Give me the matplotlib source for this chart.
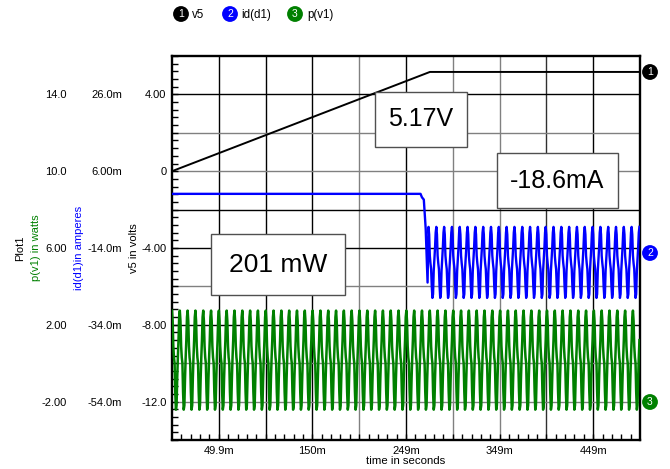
import numpy as np
import matplotlib
matplotlib.use("Agg")
import matplotlib.pyplot as plt
from matplotlib.ticker import FixedLocator, MultipleLocator
from matplotlib.patches import Rectangle

plt.rcParams['font.family'] = ['Liberation Sans', 'DejaVu Sans']

# ---------------- data ----------------
t_end_s = 0.499
# v5: linear ramp then flat
v5_t = [0.0, 0.275, 0.499]
v5_v = [0.0, 5.17, 5.17]

# id(d1): flat, transition, then periodic ripple (one cycle)
id_pre_t = [0.0, 0.265, 0.2665, 0.2685, 0.2705, 0.2725]
id_pre_v = [0.1e-3, 0.1e-3, -0.8e-3, -1.4e-3, -9.0e-3, -23.0e-3]
id_cycle_v = [-8.5e-3, -10.5e-3, -16e-3, -18e-3, -19.5e-3, -24e-3,
              -27e-3, -26e-3, -20e-3, -17e-3, -14e-3, -10e-3]
id_osc_start_s = 0.2735

# p(v1): periodic ripple all the way (one cycle)
p_cycle_v = [2.74, 2.2, 0.9, 0.3, 0.0, -1.5, -2.42, -2.2, -0.8, 0.3, 1.2, 2.4]
cycle_period_s = 8.33e-3

xtick_vals = [0.0499, 0.1497, 0.2495, 0.3493, 0.4491]
xtick_labels = ["49.9m", "150m", "249m", "349m", "449m"]
v5_ticks = [4, 0, -4, -8, -12]
v5_labels = ["4.00", "0", "-4.00", "-8.00", "-12.0"]
id_ticks = [26e-3, 6e-3, -14e-3, -34e-3, -54e-3]
id_labels = ["26.0m", "6.00m", "-14.0m", "-34.0m", "-54.0m"]
p_ticks = [14, 10, 6, 2, -2]
p_labels = ["14.0", "10.0", "6.00", "2.00", "-2.00"]

GREEN = "#008000"
BLUE = "#0000FF"
FS = 8

# ---------------- build periodic series ----------------
def tile_cycle(cycle, start, stop):
    n = len(cycle)
    ncyc = int(np.ceil((stop - start) / cycle_period_s)) + 1
    tt = start + np.arange(ncyc * n) * cycle_period_s / n
    vv = np.tile(cycle, ncyc)
    m = tt <= stop
    return tt[m], vv[m]

p_t, p_v = tile_cycle(p_cycle_v, 0.0, t_end_s)
id_ot, id_ov = tile_cycle(id_cycle_v, id_osc_start_s, t_end_s)
id_t = np.concatenate([id_pre_t, id_ot])
id_v = np.concatenate([id_pre_v, id_ov])

# ---------------- figure ----------------
W, H = 670, 469
fig = plt.figure(figsize=(W / 100, H / 100), dpi=100)
L, R, T, B = 172, 640, 56, 440
pos = [L / W, 1 - B / H, (R - L) / W, (B - T) / H]

ax = fig.add_axes(pos)
ax.set_xlim(0, t_end_s)
ax.set_ylim(-14, 6)

# grid lines
vcols = ["k", "k", "k", "#808080", "k", "#808080", "#808080", "#303030", "k"]
for k, c in enumerate(vcols, start=1):
    ax.axvline(k * 0.0499, color=c, lw=1.0, zorder=1)
hvals = [4, 2, 0, -2, -4, -6, -8, -10, -12]
hcols = ["k", "#808080", "#808080", "k", "k", "#808080", "k", "#808080", "#808080"]
for v, c in zip(hvals, hcols):
    ax.axhline(v, color=c, lw=1.0, zorder=1)

# traces
axp = fig.add_axes(pos, sharex=ax)
axp.set_ylim(-4, 16)
axi = fig.add_axes(pos, sharex=ax)
axi.set_ylim(-64e-3, 36e-3)
for a in (axp, axi):
    a.patch.set_visible(False)
    for s in a.spines.values():
        s.set_visible(False)
    a.tick_params(axis='x', which='both', bottom=False, labelbottom=False)

axp.plot(p_t, p_v, color=GREEN, lw=1.8, zorder=3)
axi.plot(id_t, id_v, color=BLUE, lw=1.7, zorder=3)
ax.plot(v5_t, v5_v, color="k", lw=1.4, zorder=4)

# v5 ticks
ax.yaxis.set_major_locator(FixedLocator(v5_ticks))
ax.set_yticklabels(v5_labels)
ax.yaxis.set_minor_locator(MultipleLocator(0.4))
ax.tick_params(axis='y', which='both', direction='in', length=4, width=1, pad=4,
               labelsize=FS)
ax.xaxis.set_major_locator(FixedLocator(xtick_vals))
ax.set_xticklabels(xtick_labels)
ax.xaxis.set_minor_locator(FixedLocator(np.arange(1, 50) * 0.00998))
ax.tick_params(axis='x', which='both', direction='in', length=4, width=1, pad=4,
               labelsize=FS)
for s in ax.spines.values():
    s.set_linewidth(1.7)
    s.set_zorder(5)
ax.set_xlabel("time in seconds", fontsize=FS + 0.2, labelpad=0)

# extra label columns
axi.yaxis.set_major_locator(FixedLocator(id_ticks))
axi.set_yticklabels(id_labels)
axi.tick_params(axis='y', which='both', length=0, pad=50 * 0.72, labelsize=FS)
axp.yaxis.set_major_locator(FixedLocator(p_ticks))
axp.set_yticklabels(p_labels)
axp.tick_params(axis='y', which='both', length=0, pad=105 * 0.72, labelsize=FS)
axi.yaxis.set_minor_locator(FixedLocator([]))
axp.yaxis.set_minor_locator(FixedLocator([]))

# rotated axis titles
def ftext(x, y, s, **kw):
    return fig.text(x / W, 1 - y / H, s, **kw)

ymid = (T + B) / 2
ftext(20, ymid, "Plot1", rotation=90, ha='center', va='center', fontsize=FS)
ftext(36, ymid, "p(v1) in watts", rotation=90, ha='center', va='center',
      fontsize=FS, color=GREEN)
ftext(79, ymid, "id(d1)in amperes", rotation=90, ha='center', va='center',
      fontsize=FS, color=BLUE)
ftext(134, ymid, "v5 in volts", rotation=90, ha='center', va='center', fontsize=FS)

# legend at top
def badge(x, y, num, col):
    ftext(x, y, num, ha='center', va='center', fontsize=7.5, color='white',
          bbox=dict(boxstyle='circle,pad=0.28', fc=col, ec='none'))

badge(181, 14, "1", "black")
ftext(192, 15, "v5", ha='left', va='center', fontsize=FS + 0.3)
badge(230, 14, "2", BLUE)
ftext(241, 15, "id(d1)", ha='left', va='center', fontsize=FS + 0.3)
badge(295, 14, "3", GREEN)
ftext(307, 15, "p(v1)", ha='left', va='center', fontsize=FS + 0.3)

# right-side trace badges
badge(650, 72, "1", "black")
badge(650, 253, "2", BLUE)
badge(650, 402, "3", GREEN)

# annotation boxes
def box(x0, y0, x1, y1, s, fs):
    fig.add_artist(Rectangle((x0 / W, 1 - y1 / H), (x1 - x0) / W, (y1 - y0) / H,
                             transform=fig.transFigure, fc='white', ec='#505050',
                             lw=1.0, zorder=10))
    fig.text((x0 + x1) / 2 / W, 1 - (y0 + y1) / 2 / H, s, ha='center',
             va='center', fontsize=fs, zorder=11)

box(375, 92, 467, 147, "5.17V", 18)
box(497, 153, 618, 208, "-18.6mA", 18)
box(211, 234, 345, 295, "201 mW", 19)

fig.savefig("out.png", dpi=100)
